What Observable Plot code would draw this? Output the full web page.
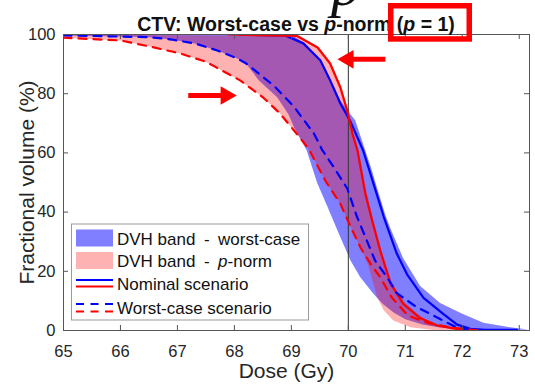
<!DOCTYPE html>
<html><head><meta charset="utf-8">
<script src="https://cdn.jsdelivr.net/npm/d3@7"></script>
<script src="https://cdn.jsdelivr.net/npm/@observablehq/plot@0.6"></script>
<style>
body{margin:0;background:#fff;}
#wrap{position:relative;width:535px;height:384px;overflow:hidden;font-family:"Liberation Sans",Arial,sans-serif;background:#fff;}
#wrap > svg.ov{position:absolute;left:0;top:0;pointer-events:none;}
</style></head>
<body><div id="wrap"></div>
<script>
// ---------- data ----------
const xTicks = [65, 66, 67, 68, 69, 70, 71, 72, 73];
const yTicks = [0, 20, 40, 60, 80, 100];
const prescription = [70];

// DVH band - worst-case (blue)
const wcUpperDose = [65, 69.0, 69.21, 69.51, 69.68, 69.86, 70.04, 70.12, 70.39, 70.53, 70.65, 70.74, 70.96, 71.26, 71.61, 72.0, 72.37, 72.84, 73.16];
const wcUpperVol  = [100, 100, 97.3, 91.7, 85.2, 77.7, 73, 71, 55.5, 46.5, 39, 34.5, 24.5, 15, 9.3, 5.7, 2.6, 1.1, 0.3];
const wcLowerDose = [65, 66, 66.5, 66.9, 67.3, 67.7, 68.05, 68.2, 68.43, 68.75, 68.95, 69.05, 69.27, 69.45, 69.63, 69.86, 70.04, 70.21, 70.44, 70.6, 70.8, 71.0, 71.3, 71.6, 72.0, 72.3];
const wcLowerVol  = [99.7, 99.3, 99.1, 98.3, 97, 94.6, 91.9, 90.3, 84.5, 78.8, 73, 68.5, 60.8, 50, 42, 31.5, 23.6, 18, 12.4, 9, 6, 3.8, 2, 1, 0.3, 0];

// DVH band - p-norm (red)
const pnUpperDose = [65, 69.15, 69.48, 69.7, 69.88, 70.0, 70.09, 70.18, 70.32, 70.44, 70.58, 70.77, 71.0, 71.3, 71.6, 71.9, 72.2];
const pnUpperVol  = [100, 99.5, 95.6, 90.2, 82.1, 74.3, 66.6, 60.8, 47, 37.2, 27, 16, 9.3, 4.3, 1.8, 0.7, 0];
const pnLowerDose = [65, 66, 66.5, 67.05, 67.5, 68.1, 68.5, 68.8, 69.05, 69.3, 69.6, 69.86, 70.05, 70.22, 70.35, 70.5, 70.62, 70.79, 71.09, 71.56];
const pnLowerVol  = [98.9, 98.0, 96.0, 93.6, 90.8, 84.5, 78.8, 73.3, 67.5, 61.5, 50.5, 42.8, 34.6, 27.8, 22, 11.5, 6.8, 3.4, 1.1, 0];

// Nominal scenario
const nomBlueDose = [68.1, 68.9, 69.21, 69.51, 69.68, 69.86, 70.04, 70.26, 70.44, 70.62, 70.85, 71.03, 71.32, 71.67, 71.91, 72.14, 72.4, 72.96];
const nomBlueVol  = [100, 99.6, 97, 91.2, 84.5, 76.7, 70.5, 60.8, 49.7, 38.5, 26, 19, 11, 5.5, 2, 0.6, 0.2, 0.2];
const nomRedDose  = [67.9, 69.1, 69.46, 69.68, 69.86, 69.98, 70.07, 70.16, 70.3, 70.42, 70.56, 70.74, 70.96, 71.26, 71.56, 71.84, 72.14];
const nomRedVol   = [100, 99.5, 95.6, 90.2, 82.1, 74.3, 66.6, 60.8, 46, 37, 27, 15.9, 9.1, 4.2, 1.7, 0.7, 0];

// Worst-case scenario
const wcsBlueDose = [65, 66, 66.5, 66.9, 67.3, 67.7, 68.05, 68.2, 68.7, 69.05, 69.4, 69.54, 69.75, 69.98, 70.15, 70.3, 70.47, 70.68, 70.85, 71.2, 71.55, 71.85, 72.15];
const wcsBlueVol  = [99.7, 99.3, 99.1, 98.3, 97, 94.6, 91.9, 90.3, 82.6, 75.5, 66.4, 61, 55, 48, 38.5, 31.5, 23.6, 18, 12.6, 7.9, 4.5, 1.5, 0];
const wcsRedDose  = [65, 66, 66.5, 67.05, 67.5, 68.1, 68.5, 68.8, 69.05, 69.3, 69.6, 69.86, 70.05, 70.22, 70.4, 70.56, 70.76, 71.05, 71.4, 71.8, 72.3];
const wcsRedVol   = [98.9, 98.0, 96.0, 93.6, 90.8, 84.5, 78.8, 73.3, 67.5, 61.5, 50.5, 42.8, 34.6, 27.8, 22.2, 18, 11.2, 5, 2.5, 1, 0];

// annotation arrows (data coordinates)
const arrowTip   = [69.81, 68.04];
const arrowNeck  = [69.96, 67.89];
const arrowTail  = [70.65, 67.19];
const arrowLevel = [91.6, 79.4];
const arrowDir   = [-1, 1];

const legendLabels = ["DVH band\u2002-\u2002worst-case", "DVH band\u2002-\u2002|p|-norm", "Nominal scenario", "Worst-case scenario"];

// ---------- build ----------
const W = 535, H = 384;
const M = {top: 34, right: 6, bottom: 54, left: 63};
const PW = W - M.left - M.right, PH = H - M.top - M.bottom;
const BLUE = "#0000ff", RED = "#ff0000";
const pts = (ds, vs) => ds.map((d, i) => ({d, v: vs[i]}));
const band = (uD, uV, lD, lV) => [...pts(uD, uV), ...pts(lD, lV).reverse()];
const arrows = arrowTip.map((t, i) => ({tip: t, neck: arrowNeck[i], tail: arrowTail[i], v: arrowLevel[i], dir: arrowDir[i]}));

const chart = Plot.plot({
  width: W, height: H,
  marginTop: M.top, marginRight: M.right, marginBottom: M.bottom, marginLeft: M.left,
  x: {domain: [65, 73.18]},
  y: {domain: [0, 100]},
  style: {fontFamily: "'Liberation Sans', Arial, sans-serif", color: "#262626", background: "white", overflow: "visible"},
  marks: [
    Plot.line(band(wcUpperDose, wcUpperVol, wcLowerDose, wcLowerVol), {x: "d", y: "v", fill: BLUE, fillOpacity: 0.5, stroke: "none", clip: true}),
    Plot.line(band(pnUpperDose, pnUpperVol, pnLowerDose, pnLowerVol), {x: "d", y: "v", fill: RED, fillOpacity: 0.3, stroke: "none", clip: true}),
    Plot.ruleX(prescription, {x: d => d, stroke: "#333", strokeWidth: 1}),
    Plot.line(pts(nomBlueDose, nomBlueVol), {x: "d", y: "v", stroke: BLUE, strokeWidth: 2.2, clip: true}),
    Plot.line(pts(nomRedDose, nomRedVol), {x: "d", y: "v", stroke: RED, strokeWidth: 2.2, clip: true}),
    Plot.line(pts(wcsBlueDose, wcsBlueVol), {x: "d", y: "v", stroke: BLUE, strokeWidth: 2.2, strokeDasharray: "8,7", clip: true}),
    Plot.line(pts(wcsRedDose, wcsRedVol), {x: "d", y: "v", stroke: RED, strokeWidth: 2.2, strokeDasharray: "8,7", clip: true}),
    // inward ticks on all four sides
    Plot.ruleX(xTicks, {x: d => d, insetTop: PH - 5, stroke: "#555"}),
    Plot.ruleX(xTicks, {x: d => d, insetBottom: PH - 5, stroke: "#555"}),
    Plot.ruleY(yTicks, {y: d => d, insetRight: PW - 5, stroke: "#555"}),
    Plot.ruleY(yTicks, {y: d => d, insetLeft: PW - 5, stroke: "#555"}),
    Plot.frame({stroke: "#555"}),
    Plot.axisX({ticks: xTicks, tickSize: 0, tickPadding: 15, fontSize: 16.5, tickFormat: d => d, label: null}),
    Plot.axisY({ticks: yTicks, tickSize: 0, tickPadding: 8, fontSize: 16.5, tickFormat: d => d, label: null}),
    Plot.text(["Dose (Gy)"], {frameAnchor: "bottom", dx: -10, dy: 41, fontSize: 21, fill: "#262626", lineAnchor: "middle", textAnchor: "middle"}),
    Plot.text(["Fractional volume (%)"], {frameAnchor: "left", dx: -36, rotate: -90, fontSize: 21, fill: "#262626", lineAnchor: "middle", textAnchor: "middle"}),
    // red arrows
    Plot.link(arrows, {x1: "tail", x2: "neck", y1: "v", y2: "v", stroke: RED, strokeWidth: 5}),
    Plot.dot(arrows.filter(a => a.dir < 0), {x: "tip", y: "v", symbol: "triangle", r: 6.9, rotate: -90, dx: 10.7, fill: RED, stroke: "none"}),
    Plot.dot(arrows.filter(a => a.dir > 0), {x: "tip", y: "v", symbol: "triangle", r: 6.9, rotate: 90, dx: -10.7, fill: RED, stroke: "none"})
  ]
});

const wrap = document.getElementById("wrap");
wrap.appendChild(chart);

// overlay: title, highlight box, legend
const ov = d3.select(wrap).append("svg").attr("class", "ov").attr("width", W).attr("height", H)
  .style("font-family", "'Liberation Sans', Arial, sans-serif");

// cut-off glyph at the top edge (descender of a larger heading)
ov.append("text").attr("x", 331).attr("y", 5).attr("font-family", "'Liberation Serif', 'Times New Roman', serif")
  .attr("font-style", "italic").attr("font-size", 60).attr("fill", "#111").text("p");

const title = ov.append("text").attr("x", 296).attr("y", 31).attr("text-anchor", "middle")
  .attr("font-weight", "bold").attr("font-size", 19.5).attr("fill", "#111");
[["CTV: Worst-case vs ", false], ["p", true], ["-norm (", false], ["p", true], [" = 1)", false]].forEach(([t, it]) => {
  const s = title.append("tspan").text(t);
  if (it) s.attr("font-style", "italic");
});
ov.append("rect").attr("x", 390.75).attr("y", 5.75).attr("width", 78.5).attr("height", 33.2)
  .attr("fill", "none").attr("stroke", RED).attr("stroke-width", 5.5);

// legend
const lg = ov.append("g");
lg.append("rect").attr("x", 71.5).attr("y", 224).attr("width", 237).attr("height", 96)
  .attr("fill", "white").attr("stroke", "#999").attr("stroke-width", 1);
lg.append("rect").attr("x", 76).attr("y", 229.5).attr("width", 37).attr("height", 17).attr("fill", BLUE).attr("fill-opacity", 0.5);
lg.append("rect").attr("x", 76).attr("y", 252).attr("width", 37).attr("height", 17).attr("fill", RED).attr("fill-opacity", 0.3);
lg.append("line").attr("x1", 76).attr("x2", 113).attr("y1", 280).attr("y2", 280).attr("stroke", BLUE).attr("stroke-width", 2.2);
lg.append("line").attr("x1", 76).attr("x2", 113).attr("y1", 286.5).attr("y2", 286.5).attr("stroke", RED).attr("stroke-width", 2.2);
lg.append("line").attr("x1", 76).attr("x2", 113).attr("y1", 304).attr("y2", 304).attr("stroke", BLUE).attr("stroke-width", 2.2).attr("stroke-dasharray", "8,6.5");
lg.append("line").attr("x1", 76).attr("x2", 113).attr("y1", 311.5).attr("y2", 311.5).attr("stroke", RED).attr("stroke-width", 2.2).attr("stroke-dasharray", "8,6.5");
const rowsY = [239.5, 261.5, 284.5, 308];
legendLabels.forEach((lab, i) => {
  const t = lg.append("text").attr("x", 117).attr("y", rowsY[i]).attr("dy", "0.35em").attr("font-size", 17).attr("fill", "#111");
  lab.split("|").forEach((part, j) => {
    const s = t.append("tspan").text(part);
    if (j % 2 === 1) s.attr("font-style", "italic");
  });
});
</script></body></html>
